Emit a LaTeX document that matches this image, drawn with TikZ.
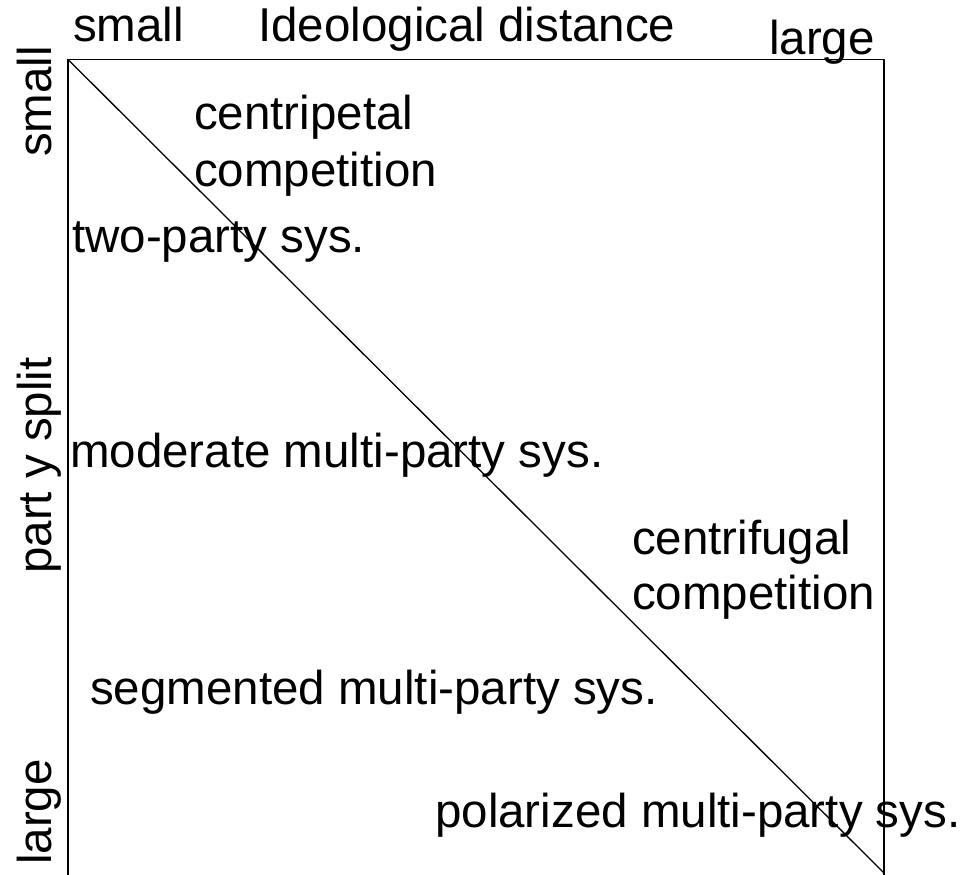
\documentclass[tikz,border=0pt]{standalone}
\usepackage{fontspec}
\setmainfont{Liberation Sans}
\begin{document}
\begin{tikzpicture}[x=1pt,y=1pt,
  lbl/.style={anchor=base west,inner sep=0pt,font=\fontsize{47.5}{57}\selectfont},
  vlbl/.style={lbl,rotate=90},
  edge/.style={line width=1.6pt,black}]
\useasboundingbox (0,0) rectangle (969,875);
% frame corners (y = 875 - pixel y)
\coordinate (tl) at (68,815.5);
\coordinate (tr) at (884,815.5);
\coordinate (bl) at (68,0);
\coordinate (br) at (884,0);
\coordinate (dend) at (884,2);
\draw[edge] (bl) -- (tl) -- (tr) -- (br);
\draw[edge,line width=1.3pt] (tl) -- (dend);
% top axis
\node[lbl] (tsmall) at (73,833) {small};
\node[lbl] (tid) at (258,833) {Ideological distance};
\node[lbl] (tlarge) at (769,820) {large};
% left axis
\node[vlbl] (lsmall) at (51,718) {small};
\node[vlbl] (lsplit) at (51,301) {part y split};
\node[vlbl] (llarge) at (51,10) {large};
% inner labels
\node[lbl] (cp1) at (194,745) {centripetal};
\node[lbl] (cp2) at (194,688) {competition};
\node[lbl] (two) at (72,622) {two-party sys.};
\node[lbl] (mod) at (70,407) {moderate multi-party sys.};
\node[lbl] (cf1) at (632,320) {centrifugal};
\node[lbl] (cf2) at (632,265) {competition};
\node[lbl] (seg) at (90,170) {segmented multi-party sys.};
\node[lbl] (pol) at (435,47) {polarized multi-party sys.};
\end{tikzpicture}
\end{document}
